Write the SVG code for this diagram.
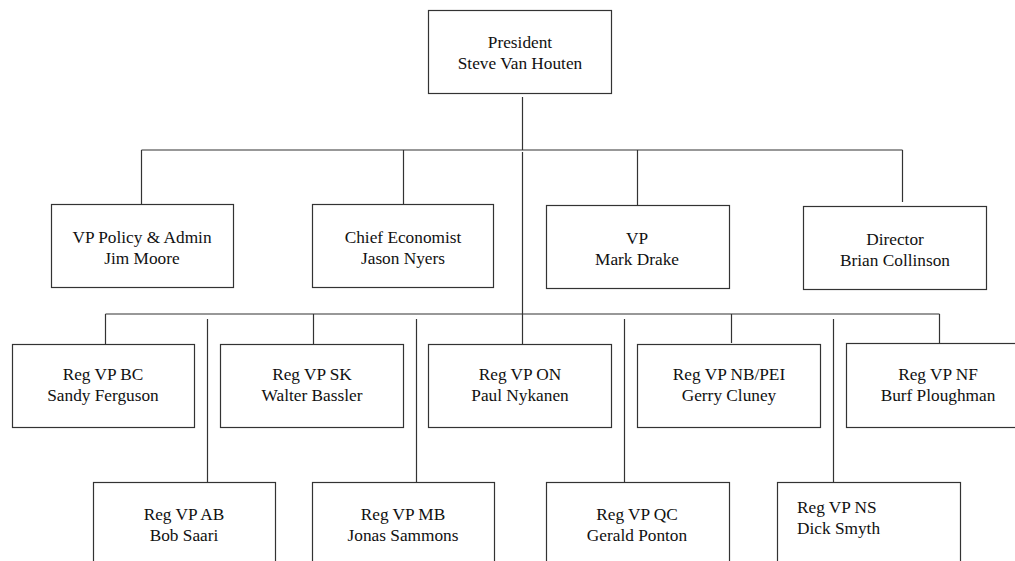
<svg xmlns="http://www.w3.org/2000/svg" width="1015" height="561" viewBox="0 0 1015 561">
<style>
.box{fill:#fff;stroke:#333;stroke-width:1.2}
.ln{fill:none;stroke:#333;stroke-width:1.2}
text{font-family:"Liberation Serif","Times New Roman",serif;font-size:17.3px;fill:#111;text-anchor:middle}
</style>
<rect width="1015" height="561" fill="#fff"/>
<g id="connectors">
<path class="ln" d="M522.5 97V150M141.5 150H902.5M141.5 150V204M403.5 150V204M637.5 150V205M902.5 150V202"/>
<path class="ln" d="M522.5 152V314M105.5 314H939.5M105.5 314V344M313.5 314V344M522.5 314V344M731.5 314V343M939.5 314V343"/>
<path class="ln" d="M207.5 319V482M416.5 319V482M624.5 319V482M833.5 319V482"/>
</g>
<g id="president"><rect class="box" x="428.5" y="10.5" width="183" height="83"/><text x="520" y="48">President</text><text x="520" y="69">Steve Van Houten</text></g>
<g id="vp-policy"><rect class="box" x="51.5" y="204.5" width="182" height="83"/><text x="142" y="243">VP Policy &amp; Admin</text><text x="142" y="264">Jim Moore</text></g>
<g id="chief-economist"><rect class="box" x="312.5" y="204.5" width="181" height="83"/><text x="403" y="243">Chief Economist</text><text x="403" y="264">Jason Nyers</text></g>
<g id="vp-mark-drake"><rect class="box" x="546.5" y="205.5" width="183" height="83"/><text x="637" y="244">VP</text><text x="637" y="265">Mark Drake</text></g>
<g id="director"><rect class="box" x="803.5" y="206.5" width="183" height="83"/><text x="895" y="245">Director</text><text x="895" y="266">Brian Collinson</text></g>
<g id="reg-bc"><rect class="box" x="12.5" y="344.5" width="182" height="83"/><text x="103" y="380">Reg VP BC</text><text x="103" y="401">Sandy Ferguson</text></g>
<g id="reg-sk"><rect class="box" x="220.5" y="344.5" width="183" height="83"/><text x="312" y="380">Reg VP SK</text><text x="312" y="401">Walter Bassler</text></g>
<g id="reg-on"><rect class="box" x="428.5" y="344.5" width="183" height="83"/><text x="520" y="380">Reg VP ON</text><text x="520" y="401">Paul Nykanen</text></g>
<g id="reg-nb"><rect class="box" x="637.5" y="344.5" width="183" height="83"/><text x="729" y="380">Reg VP NB/PEI</text><text x="729" y="401">Gerry Cluney</text></g>
<g id="reg-nf"><rect class="box" x="846.5" y="343.5" width="183" height="84"/><text x="938" y="380">Reg VP NF</text><text x="938" y="401">Burf Ploughman</text></g>
<g id="reg-ab"><rect class="box" x="93.5" y="482.5" width="182" height="100"/><text x="184" y="520">Reg VP AB</text><text x="184" y="541">Bob Saari</text></g>
<g id="reg-mb"><rect class="box" x="312.5" y="482.5" width="182" height="100"/><text x="403" y="520">Reg VP MB</text><text x="403" y="541">Jonas Sammons</text></g>
<g id="reg-qc"><rect class="box" x="546.5" y="482.5" width="183" height="100"/><text x="637" y="520">Reg VP QC</text><text x="637" y="541">Gerald Ponton</text></g>
<g id="reg-ns"><rect class="box" x="777.5" y="482.5" width="183" height="100"/><text x="797" y="513" style="text-anchor:start">Reg VP NS</text><text x="797" y="534" style="text-anchor:start">Dick Smyth</text></g>
</svg>
